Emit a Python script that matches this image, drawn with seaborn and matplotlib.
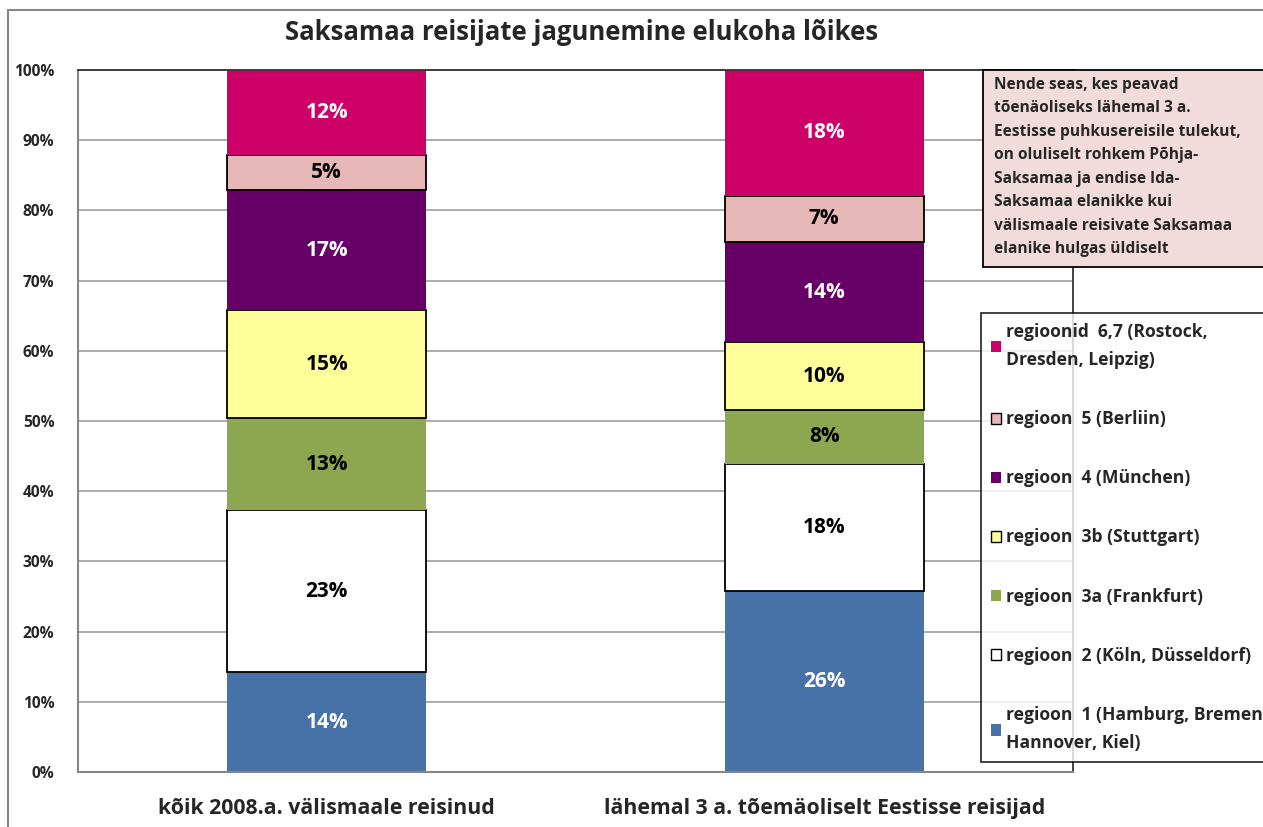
import numpy as np
import pandas as pd
import matplotlib
matplotlib.use("Agg")
import matplotlib.pyplot as plt
import seaborn as sns
from matplotlib.patches import Patch, Rectangle
from matplotlib.ticker import FixedLocator, FuncFormatter

sns.set_style("white")
plt.rcParams['font.family'] = ['Open Sans', 'DejaVu Sans']

# andmed (protsendid, loetud jooniselt)
groups = ['kõik 2008.a. välismaale reisinud',
          'lähemal 3 a. tõemäoliselt Eestisse reisijad']
regions = ['regioon  1 (Hamburg, Bremen\nHannover, Kiel)',
           'regioon  2 (Köln, Düsseldorf)',
           'regioon  3a (Frankfurt)',
           'regioon  3b (Stuttgart)',
           'regioon  4 (München)',
           'regioon  5 (Berliin)',
           'regioonid  6,7 (Rostock,\nDresden, Leipzig)']
share_all = [14.2, 23.1, 13.1, 15.4, 17.1, 5.0, 12.1]
share_est = [25.8, 18.1, 7.7, 9.6, 14.3, 6.6, 17.9]

colors = ['#4672A8', '#FFFFFF', '#8DA750', '#FFFF99', '#660066', '#E6B8B7', '#CC0066']
outlined = [False, True, False, True, False, True, False]
txt_col = ['white', 'black', 'black', 'black', 'white', 'black', 'white']

note = ("Nende seas, kes peavad\n"
        "tõenäoliseks lähemal 3 a.\n"
        "Eestisse puhkusereisile tulekut,\n"
        "on oluliselt rohkem Põhja-\n"
        "Saksamaa ja endise Ida-\n"
        "Saksamaa elanikke kui\n"
        "välismaale reisivate Saksamaa\n"
        "elanike hulgas üldiselt")

W, H = 1263, 827
fig = plt.figure(figsize=(W / 100, H / 100), dpi=100)
ax = fig.add_axes([78 / W, 55 / H, (1073 - 78) / W, 702 / H])

bottom = np.zeros(len(groups))
for i, reg in enumerate(regions):
    vals = np.array([share_all[i], share_est[i]])
    df = pd.DataFrame({'grupp': groups, 'osakaal': vals})
    sns.barplot(data=df, x='grupp', y='osakaal', order=groups, color=colors[i],
                saturation=1, width=0.4, errorbar=None, bottom=bottom.copy(),
                edgecolor='black' if outlined[i] else colors[i],
                linewidth=1.3 if outlined[i] else 0, zorder=2, ax=ax)
    for j, v in enumerate(vals):
        ax.text(j, bottom[j] + v / 2, f'{round(v)}%', ha='center', va='center',
                fontsize=15, fontweight='bold', color=txt_col[i], zorder=3)
    bottom += vals

ax.set_xlim(-0.5, 1.5)
ax.set_ylim(0, 100)
ax.set_yticks(np.arange(0, 101, 10))
ax.yaxis.set_major_formatter(FuncFormatter(lambda y, p: f'{int(y)}%'))
ax.yaxis.grid(True, color='#A6A6A6', linewidth=1.3)
ax.set_axisbelow(True)
ax.set_xlabel('')
ax.set_ylabel('')

ax.tick_params(axis='y', length=5, width=1, color='#868686', labelsize=11.2, pad=12)
for lab in ax.get_yticklabels():
    lab.set_fontweight('bold')
ax.tick_params(axis='x', which='major', length=0, labelsize=15.3, pad=19)
for lab in ax.get_xticklabels():
    lab.set_fontweight('bold')
ax.xaxis.set_minor_locator(FixedLocator([-0.5, 0.5, 1.5]))
ax.tick_params(axis='x', which='minor', length=5, width=1, color='#868686')

for s in ['left', 'bottom']:
    ax.spines[s].set_color('#868686')
    ax.spines[s].set_linewidth(1.5)
ax.spines['top'].set_color('#333333')
ax.spines['top'].set_linewidth(1.3)
ax.spines['right'].set_color('#333333')
ax.spines['right'].set_linewidth(1.3)

# pealkiri
fig.text(582 / W, 1 - 33 / H, 'Saksamaa reisijate jagunemine elukoha lõikes',
         ha='center', va='center', fontsize=18.5, fontweight='bold')

# diagrammi raam
fig.patches.append(Rectangle((8 / W, -0.1), 1.2, 1 - 10 / H + 0.1,
                             transform=fig.transFigure, facecolor='none',
                             edgecolor='#878787', linewidth=1.5, zorder=0))

# kommentaarikast
fig.patches.append(Rectangle((983 / W, 1 - 267 / H), 0.3, (267 - 70) / H,
                             transform=fig.transFigure, facecolor='#F2DCDB',
                             edgecolor='black', linewidth=1.3, zorder=4))
fig.text(994 / W, 1 - 77 / H, note, ha='left', va='top', fontsize=11.2,
         fontweight='bold', linespacing=1.62, zorder=5)

# legend
handles = [Patch(facecolor=colors[i], edgecolor='black' if outlined[i] else colors[i],
                 linewidth=1 if outlined[i] else 0) for i in range(len(regions))][::-1]
leg = fig.legend(handles, regions[::-1], loc='upper left',
                 bbox_to_anchor=(981 / W, 1 - 313 / H), borderaxespad=0,
                 frameon=True, fancybox=False, edgecolor='black',
                 prop={'weight': 'bold', 'size': 12.6}, labelspacing=2.35,
                 handlelength=0.6, handleheight=0.6, handletextpad=0.3,
                 borderpad=0.55)
for t in leg.get_texts():
    t.set_linespacing(1.75)
leg.get_frame().set_linewidth(1.3)
leg.set_zorder(6)

fig.savefig('out.png', dpi=100)
